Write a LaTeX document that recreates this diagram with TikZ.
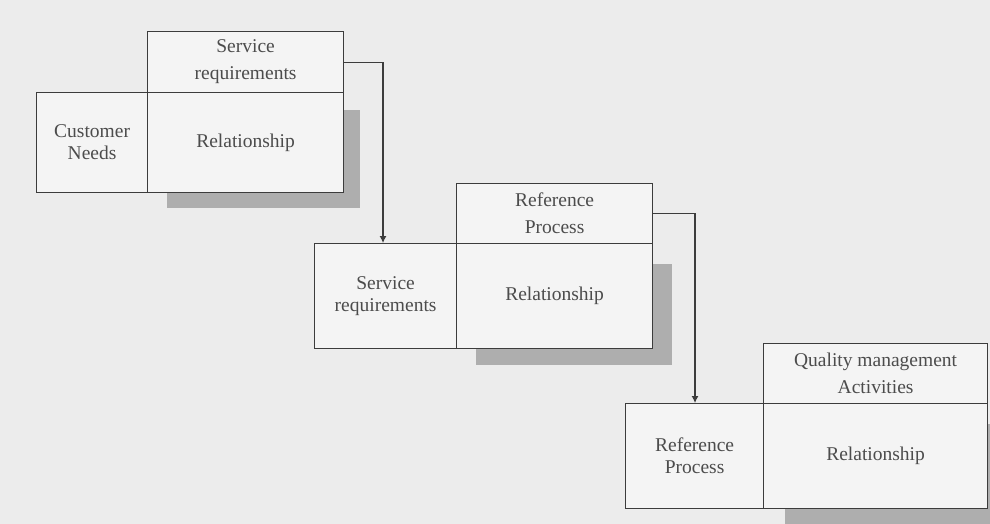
\documentclass[tikz,border=0pt]{standalone}
\usepackage{fontspec}
\setmainfont{Liberation Serif}
\usetikzlibrary{arrows.meta,calc}
\definecolor{bg}{HTML}{ECECEC}
\definecolor{boxfill}{HTML}{F4F4F4}
\definecolor{shadowc}{HTML}{AEAEAE}
\definecolor{linec}{HTML}{3C3C3C}
\tikzset{
  cell/.style={draw=linec, line width=1.2pt, fill=boxfill, anchor=north west, inner sep=0pt, align=center, text=black!70, font=\fontsize{19.5}{22}\selectfont},
  topcell/.style={cell, font=\fontsize{19.5}{27}\selectfont},
  arr/.style={draw=linec, line width=1.1pt, -{Latex[length=7pt,width=7pt]}}
}
\begin{document}
\begin{tikzpicture}[x=1pt,y=-1pt]
\useasboundingbox[fill=bg] (0,0) rectangle (990,524);
% block 1
\fill[shadowc] (167,110) rectangle (360,208);
\node[topcell, minimum width=196pt, minimum height=61pt] (tb1) at (147,31) {Service\\requirements};
\node[cell, minimum width=111pt, minimum height=100pt] (lb1) at (36,92) {Customer\\Needs};
\node[cell, minimum width=196pt, minimum height=100pt] (rb1) at (147,92) {Relationship};
% block 2
\fill[shadowc] (476,264) rectangle (672,365);
\node[topcell, minimum width=196pt, minimum height=60pt] (tb2) at (456,183) {Reference\\Process};
\node[cell, minimum width=142pt, minimum height=105pt] (lb2) at (314,243) {Service\\requirements};
\node[cell, minimum width=196pt, minimum height=105pt] (rb2) at (456,243) {Relationship};
% block 3
\fill[shadowc] (785,424) rectangle (1000,530);
\node[topcell, minimum width=224pt, minimum height=60pt] (tb3) at (763,343) {Quality management\\Activities};
\node[cell, minimum width=138pt, minimum height=105pt] (lb3) at (625,403) {Reference\\Process};
\node[cell, minimum width=224pt, minimum height=105pt] (rb3) at (763,403) {Relationship};
% connectors
\draw[arr] (tb1.east) -| ([xshift=69pt]lb2.north west);
\draw[arr] (tb2.east) -| ([xshift=70pt]lb3.north west);
\end{tikzpicture}
\end{document}
